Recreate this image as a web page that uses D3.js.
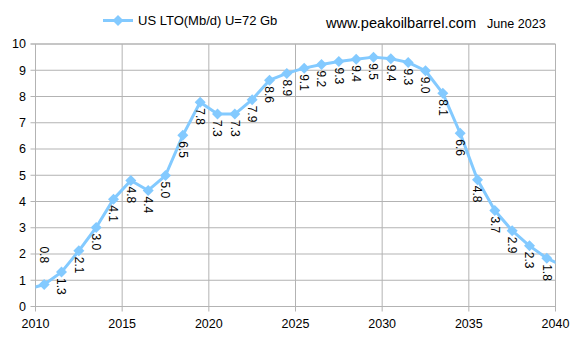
<!DOCTYPE html>
<html><head><meta charset="utf-8">
<script src="https://cdn.jsdelivr.net/npm/d3@7"></script>
<style>body{margin:0;background:#fff}svg{display:block;font-family:"Liberation Sans",Arial,sans-serif}</style>
</head><body><svg id="c" width="581" height="338"></svg>
<script>
const years = [2009.5,2010.5,2011.5,2012.5,2013.5,2014.5,2015.5,2016.5,2017.5,2018.5,2019.5,2020.5,2021.5,2022.5,2023.5,2024.5,2025.5,2026.5,2027.5,2028.5,2029.5,2030.5,2031.5,2032.5,2033.5,2034.5,2035.5,2036.5,2037.5,2038.5,2039.5,2040.5];
const values = [0.65,0.84,1.31,2.12,3.01,4.09,4.80,4.42,4.99,6.52,7.78,7.33,7.33,7.88,8.62,8.88,9.08,9.22,9.33,9.42,9.50,9.44,9.30,8.98,8.12,6.60,4.83,3.66,2.89,2.31,1.84,1.52];
const labels = [null,"0.8","1.3","2.1","3.0","4.1","4.8","4.4","5.0","6.5","7.8","7.3","7.3","7.9","8.6","8.9","9.1","9.2","9.3","9.4","9.5","9.4","9.3","9.0","8.1","6.6","4.8","3.7","2.9","2.3","1.8",null];
const xTicks = [2010,2015,2020,2025,2030,2035,2040];
const yTicks = [0,1,2,3,4,5,6,7,8,9,10];
const seriesName = "US LTO(Mb/d) U=72 Gb";
const site = "www.peakoilbarrel.com";
const dateText = "June 2023";

const svg = d3.select("#c");
const x = d3.scaleLinear().domain([2010,2040]).range([35.5,555.5]);
const y = d3.scaleLinear().domain([0,10]).range([306.5,44]);
const grid = "#b3b3b3", blue = "#83caff";

const g = svg.append("g");
g.selectAll(".hg").data(yTicks).join("line")
  .attr("x1",x(2010)-5).attr("x2",x(2040)).attr("y1",d=>y(d)).attr("y2",d=>y(d))
  .attr("stroke",grid).attr("stroke-width",d=>d===10?1.6:1);
g.selectAll(".vg").data(xTicks).join("line")
  .attr("x1",d=>x(d)).attr("x2",d=>x(d)).attr("y1",y(10)).attr("y2",y(0)+5)
  .attr("stroke",grid).attr("stroke-width",1);

g.selectAll(".yl").data(yTicks).join("text")
  .attr("x",26).attr("y",d=>y(d)).attr("dy","0.35em").attr("text-anchor","end")
  .attr("font-size",12.5).attr("fill","#000").text(d=>d);
g.selectAll(".xl").data(xTicks).join("text")
  .attr("x",d=>x(d)).attr("y",328).attr("text-anchor","middle")
  .attr("font-size",12.5).attr("fill","#000").text(d=>d);

svg.append("defs").append("clipPath").attr("id","clip").append("rect")
  .attr("x",x(2010)).attr("y",0).attr("width",x(2040)-x(2010)).attr("height",338);

const pts = years.map((yr,i)=>({yr,v:values[i],lab:labels[i]}));
const plot = svg.append("g").attr("clip-path","url(#clip)");
plot.append("path").datum(pts)
  .attr("d",d3.line().x(d=>x(d.yr)).y(d=>y(d.v)))
  .attr("fill","none").attr("stroke",blue).attr("stroke-width",3).attr("stroke-linejoin","round");
const diamond = "M0,-5.5L5.5,0L0,5.5L-5.5,0Z";
plot.selectAll(".m").data(pts.filter(d=>d.lab)).join("path")
  .attr("d",diamond).attr("transform",d=>`translate(${x(d.yr)},${y(d.v)})`).attr("fill",blue);

svg.selectAll(".dl").data(pts.filter(d=>d.lab)).join("text")
  .attr("transform",(d,i)=> i===0
      ? `translate(${x(d.yr)},${y(d.v)-38}) rotate(90)`
      : `translate(${x(d.yr)},${y(d.v)+6}) rotate(90)`)
  .attr("dy","0.35em").attr("font-size",12).attr("fill","#000").text(d=>d.lab);

// legend
svg.append("line").attr("x1",103).attr("x2",133).attr("y1",20.5).attr("y2",20.5)
  .attr("stroke",blue).attr("stroke-width",3);
svg.append("path").attr("d",diamond).attr("transform","translate(118,20.5)").attr("fill",blue);
svg.append("text").attr("x",138).attr("y",25).attr("font-size",13).attr("fill","#000").text(seriesName);
svg.append("text").attr("x",326).attr("y",28).attr("font-size",14.6).attr("fill","#000").text(site);
svg.append("text").attr("x",487).attr("y",28).attr("font-size",12.6).attr("fill","#000").text(dateText);
</script></body></html>
